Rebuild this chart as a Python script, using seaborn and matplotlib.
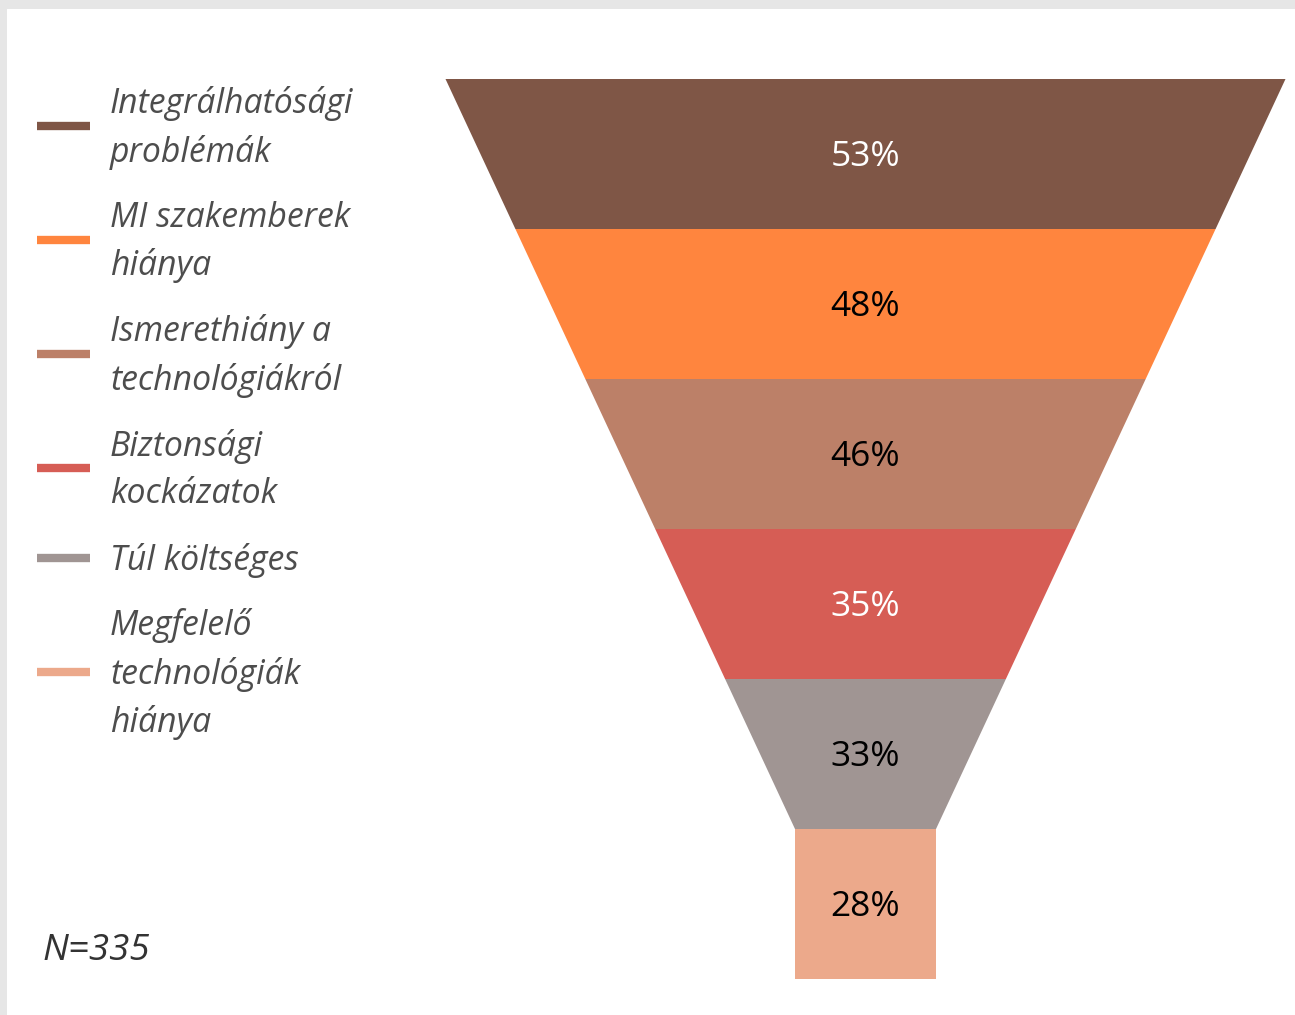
import matplotlib
matplotlib.use("Agg")
import matplotlib.pyplot as plt
import seaborn as sns

# --- Data ---
categories = [
    "Integrálhatósági\nproblémák",
    "MI szakemberek\nhiánya",
    "Ismerethiány a\ntechnológiákról",
    "Biztonsági\nkockázatok",
    "Túl költséges",
    "Megfelelő\ntechnológiák\nhiánya",
]
values = [53, 48, 46, 35, 33, 28]
sample_note = "N=335"

colors = ["#7f5646", "#ff853e", "#bc8068", "#d65d55", "#a09593", "#eca98b"]
label_colors = ["white", "black", "black", "white", "black", "black"]

# --- Style ---
sns.set_theme(style="white")
plt.rcParams['font.family'] = ['Open Sans', 'DejaVu Sans']

W, H = 1295, 1015
fig = plt.figure(figsize=(W / 100, H / 100), dpi=100)
fig.patch.set_facecolor("#e6e6e6")
ax = fig.add_axes([7 / W, 0, 1 - 7 / W, 1 - 9 / H])
ax.set_xlim(7, W)
ax.set_ylim(H, 9)
ax.axis("off")
# white panel inside the grey frame
ax.add_patch(plt.Rectangle((7, 9), W, H, color="white", zorder=0))

palette = sns.color_palette(colors)

# --- Funnel geometry (layout only) ---
cx = 865.5
top_y = 79
level_h = 150
top_w = 840
neck_w = 141
n = len(values)
step = (top_w - neck_w) / (n - 1)

for i, (val, col, lc) in enumerate(zip(values, palette, label_colors)):
    y0 = top_y + i * level_h
    y1 = y0 + level_h
    w0 = top_w - i * step if i < n - 1 else neck_w
    w1 = top_w - (i + 1) * step if i < n - 1 else neck_w
    xs = [cx - w0 / 2, cx + w0 / 2, cx + w1 / 2, cx - w1 / 2]
    ys = [y0, y0, y1, y1]
    ax.fill(xs, ys, color=col, lw=0, zorder=1)
    ax.text(cx, (y0 + y1) / 2 + 3, f"{val}%", ha="center", va="center",
            fontsize=25.5, color=lc, zorder=2)

# --- Legend ---
line_h = 48
gap = 18
y_cursor = 78
for label, col in zip(categories, palette):
    nlines = label.count("\n") + 1
    block_h = nlines * line_h
    yc = y_cursor + block_h / 2
    ax.plot([37, 90], [yc, yc], color=col, lw=6, solid_capstyle="butt", zorder=1)
    ax.text(110, yc + 2, label, ha="left", va="center", fontsize=24.3,
            style="italic", color="#4d4d4d", linespacing=1.49, zorder=2)
    y_cursor += block_h + gap

ax.text(42, 951, sample_note, ha="left", va="center", fontsize=26.5,
        style="italic", color="#333333", zorder=2)

fig.savefig("out.png", dpi=100, facecolor=fig.get_facecolor())
